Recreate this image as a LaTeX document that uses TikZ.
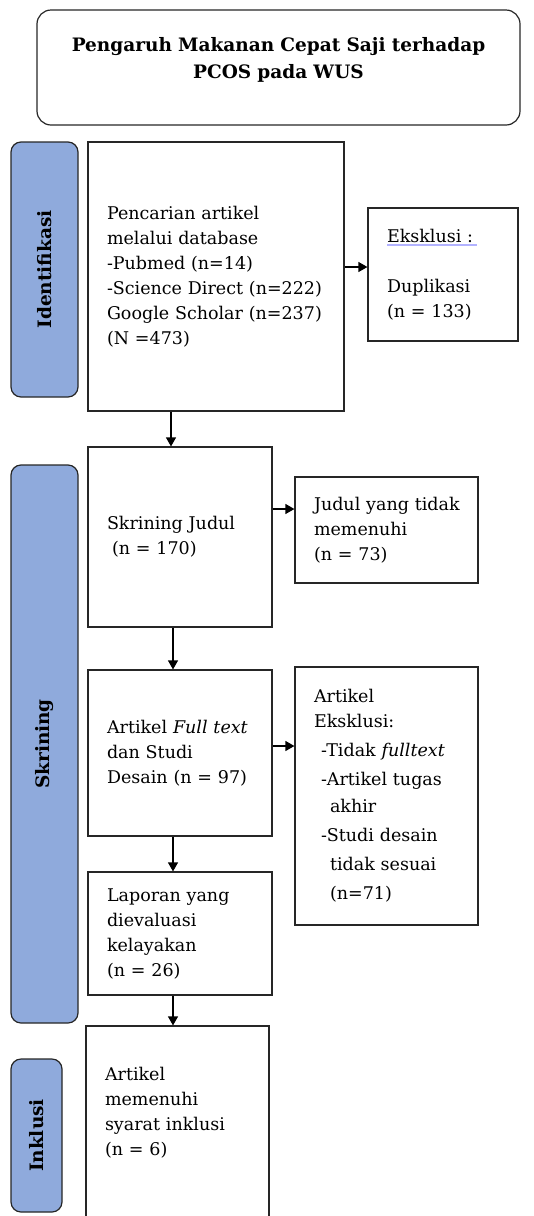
\documentclass[tikz,border=0pt]{standalone}
\usepackage{fontspec}
\setmainfont{DejaVu Serif}
\usetikzlibrary{positioning,arrows.meta}
\definecolor{tahapbiru}{HTML}{8FAADC}

\begin{document}
\begin{tikzpicture}[x=1pt,y=-1pt,
    font=\fontsize{17.5}{25}\selectfont,
    kotak/.style={draw=black!85,line width=1.2pt,align=left,inner xsep=19pt,inner ysep=0pt},
    tahap/.style={draw=black!85,line width=1.2pt,rounded corners=10pt,fill=tahapbiru,
      rotate=90,inner sep=0pt,font=\fontsize{18.5}{20}\selectfont\bfseries},
    panah/.style={-{Triangle[length=9pt,width=10pt]},line width=1.2pt}]
    \path[use as bounding box,clip] (0,0) rectangle (534,1216);
    \node[kotak,rounded corners=14pt,align=center,text width=445pt,minimum height=115pt,text depth=47pt,
      font=\fontsize{18.5}{27}\selectfont\bfseries] (topik) at (278.5,67.5)
      {Pengaruh Makanan Cepat Saji terhadap\\PCOS pada WUS};
    \node[tahap,minimum width=255pt,minimum height=67pt] (identifikasi) at (44.5,269.5) {Identifikasi};
    \node[tahap,minimum width=558pt,minimum height=67pt] (skrining) at (44.5,744) {Skrining};
    \node[tahap,minimum width=153pt,minimum height=51pt] (inklusi) at (36.5,1135.5) {Inklusi};
    \node[kotak,text width=218pt,minimum height=269pt] (cari) at (216,276.5)
      {Pencarian artikel\\melalui database\\-Pubmed (n=14)\\\mbox{-Science Direct (n=222)}\\\mbox{Google Scholar (n=237)}\\(N =473)};
    \node[kotak,text width=112pt,minimum height=133pt] (duplikasi) at (443,274.5)
      {Eksklusi :\\[25pt]Duplikasi\\(n = 133)};
    \node[kotak,text width=146pt,minimum height=180pt] (skrjudul) at (180,537)
      {Skrining Judul\\\hspace*{5pt}(n = 170)};
    \node[kotak,text width=145pt,minimum height=106pt] (tolakjudul) at (386.5,530)
      {\mbox{Judul yang tidak}\\memenuhi\\(n = 73)};
    \node[kotak,text width=146pt,minimum height=166pt] (fulltext) at (180,753)
      {\mbox{Artikel \textit{Full text}}\\dan Studi\\\mbox{Desain (n = 97)}};
    \node[kotak,text width=145pt,minimum height=258pt] (eksklusi) at (386.5,796)
      {Artikel\\Eksklusi:\\[4pt]\hspace*{7pt}-Tidak \textit{fulltext}\\[4pt]\hspace*{7pt}-Artikel tugas\\[2pt]%
       \hspace*{16pt}akhir\\[4pt]\hspace*{7pt}-Studi desain\\[4pt]\hspace*{16pt}tidak sesuai\\[4pt]\hspace*{16pt}(n=71)};
    \node[kotak,text width=146pt,minimum height=123pt] (laporan) at (180,933.5)
      {Laporan yang\\dievaluasi\\kelayakan\\(n = 26)};
    \node[kotak,minimum width=183pt,minimum height=214pt] (inkl) at (177.5,1133) {};
    \node[align=left,text width=145pt,inner sep=0pt] (syarat) at (177.5,1113)
      {Artikel\\memenuhi\\syarat inklusi\\(n = 6)};
    \draw[blue!30,line width=2pt] (387,244.5) -- (477,244.5);
    \draw[panah] (cari.east |- 0,267) -- (duplikasi.west |- 0,267);
    \draw[panah] (171,0 |- cari.south) -- (171,0 |- skrjudul.north);
    \draw[panah] (skrjudul.east |- 0,509) -- (tolakjudul.west |- 0,509);
    \draw[panah] (173,0 |- skrjudul.south) -- (173,0 |- fulltext.north);
    \draw[panah] (fulltext.east |- 0,746) -- (eksklusi.west |- 0,746);
    \draw[panah] (173,0 |- fulltext.south) -- (173,0 |- laporan.north);
    \draw[panah] (173,0 |- laporan.south) -- (173,0 |- inkl.north);
  \end{tikzpicture}
\end{document}
